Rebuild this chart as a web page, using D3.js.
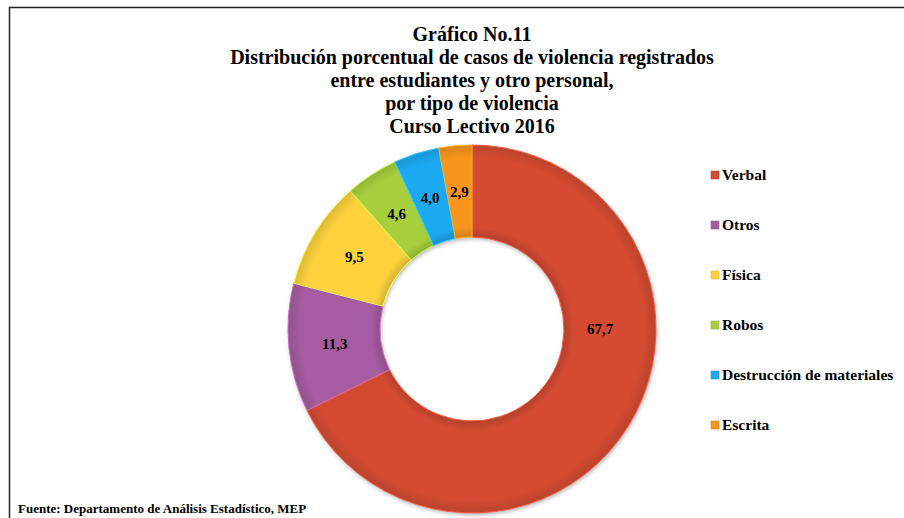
<!DOCTYPE html>
<html>
<head>
<meta charset="utf-8">
<script src="https://cdn.jsdelivr.net/npm/d3@7"></script>
<style>
  body { margin: 0; background: #fff; }
</style>
</head>
<body>
<div id="chart"></div>
<script>
// data
const categories = ["Verbal", "Otros", "Física", "Robos", "Destrucción de materiales", "Escrita"];
const values = [67.7, 11.3, 9.5, 4.6, 4.0, 2.9];
const colors = ["#D44B33", "#A65CA1", "#FDD23E", "#A7CF3E", "#1FA9F1", "#F7951E"];
const titleLines = [
    "Gráfico No.11",
    "Distribución porcentual de casos de violencia registrados",
    "entre estudiantes y otro personal,",
    "por tipo de violencia",
    "Curso Lectivo 2016"
];
const source = "Fuente: Departamento de Análisis Estadístico, MEP";

// dimensions
const width = 904;
const height = 518;
const cx = 472, cy = 329;
const outerR = 184, innerR = 92;
const serif = "Liberation Serif";

const svg = d3.select("#chart")
    .append("svg")
    .attr("width", width)
    .attr("height", height);

// frame lines (top and left)
svg.append("line")
    .attr("x1", 9).attr("x2", width).attr("y1", 7.5).attr("y2", 7.5)
    .attr("stroke", "#222").attr("stroke-width", 1.5);
svg.append("line")
    .attr("x1", 9.5).attr("x2", 9.5).attr("y1", 7).attr("y2", height)
    .attr("stroke", "#222").attr("stroke-width", 1.5);

// title
svg.append("text")
    .attr("x", cx)
    .attr("y", 41)
    .attr("text-anchor", "middle")
    .attr("font-size", "20px")
    .selectAll("tspan")
    .data(titleLines)
    .join("tspan")
    .attr("x", cx)
    .attr("dy", (d, i) => i === 0 ? 0 : 23)
    .text(d => d);

// shadow filter
const defs = svg.append("defs");
const filter = defs.append("filter").attr("id", "shadow")
    .attr("x", "-20%").attr("y", "-20%").attr("width", "140%").attr("height", "140%");
filter.append("feDropShadow")
    .attr("dx", 1).attr("dy", 2).attr("stdDeviation", 2)
    .attr("flood-color", "#000").attr("flood-opacity", 0.3);

// radial shading for the ring (local coords, centre at 0,0)
const grad = defs.append("radialGradient").attr("id", "shade")
    .attr("gradientUnits", "userSpaceOnUse")
    .attr("cx", 0).attr("cy", 0).attr("r", outerR);
grad.append("stop").attr("offset", innerR / outerR).attr("stop-color", "#000").attr("stop-opacity", 0.15);
grad.append("stop").attr("offset", (innerR + 10) / outerR).attr("stop-color", "#000").attr("stop-opacity", 0);
grad.append("stop").attr("offset", 0.93).attr("stop-color", "#000").attr("stop-opacity", 0);
grad.append("stop").attr("offset", 1).attr("stop-color", "#000").attr("stop-opacity", 0.12);

const color = d3.scaleOrdinal().domain(categories).range(colors);

const pie = d3.pie().sort(null).value(d => d.value);
const arcs = pie(categories.map((c, i) => ({ name: c, value: values[i] })));

const arc = d3.arc().innerRadius(innerR).outerRadius(outerR);

const g = svg.append("g").attr("transform", `translate(${cx},${cy})`);

g.append("g").attr("filter", "url(#shadow)")
    .selectAll("path")
    .data(arcs)
    .join("path")
    .attr("d", arc)
    .attr("fill", d => color(d.data.name));

// overlay shading and light bevel edges
g.selectAll("path.shade")
    .data(arcs)
    .join("path")
    .attr("class", "shade")
    .attr("d", arc)
    .attr("fill", "url(#shade)")
    .attr("stroke", d => d3.color(color(d.data.name)).brighter(0.5))
    .attr("stroke-width", 1)
    .attr("pointer-events", "none");

// labels: centroid, large slice label placed at its right side
const labelR = (innerR + outerR) / 2;
const isBig = d => (d.endAngle - d.startAngle) > Math.PI;
const labelAngle = d => isBig(d) ? Math.PI / 2 : (d.startAngle + d.endAngle) / 2;
g.selectAll("text.lbl")
    .data(arcs)
    .join("text")
    .attr("class", "lbl")
    .attr("x", d => Math.sin(labelAngle(d)) * labelR - (isBig(d) ? 10 : 0))
    .attr("y", d => -Math.cos(labelAngle(d)) * labelR)
    .attr("dy", "0.35em")
    .attr("text-anchor", "middle")
    .attr("font-size", "15px")
    .attr("fill", "#000")
    .text(d => d3.format(".1f")(d.data.value).replace(".", ","));

// legend
const legend = svg.append("g").attr("transform", "translate(711,175)");
const item = legend.selectAll("g")
    .data(categories)
    .join("g")
    .attr("transform", (d, i) => `translate(0,${i * 50})`);
item.append("rect")
    .attr("x", 0).attr("y", -4)
    .attr("width", 8).attr("height", 8)
    .attr("fill", d => color(d))
    .attr("stroke", d => d3.color(color(d)).darker(0.5))
    .attr("stroke-width", 0.5);
item.append("text")
    .attr("x", 11)
    .attr("dy", "0.35em")
    .attr("font-size", "15.5px")
    .text(d => d);

// source
svg.append("text")
    .attr("x", 18)
    .attr("y", 513)
    .attr("font-size", "13px")
    .text(source);

// serif bold on every text
svg.selectAll("text, tspan")
    .style("font-family", serif)
    .style("font-weight", "bold");
</script>
</body>
</html>
